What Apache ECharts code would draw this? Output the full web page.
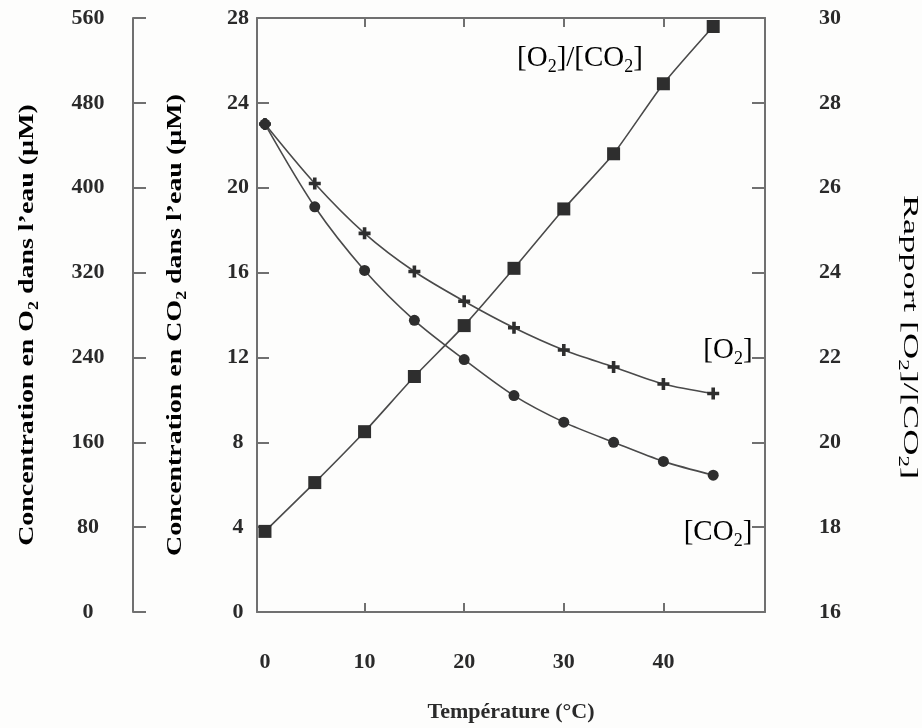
<!DOCTYPE html>
<html>
<head>
<meta charset="utf-8">
<script src="https://cdn.jsdelivr.net/npm/echarts@6/dist/echarts.min.js"></script>
<style>
html,body{margin:0;padding:0;background:#fdfdfc;}
#c{width:922px;height:728px;}
</style>
</head>
<body>
<div id="c"></div>
<script>
// Data
var temperatures = [0, 5, 10, 15, 20, 25, 30, 35, 40, 45];
var o2Values = [460, 404, 357, 321, 293, 268, 247, 231, 215, 206];
var co2Values = [23.0, 19.1, 16.1, 13.75, 11.9, 10.2, 8.95, 8.0, 7.1, 6.45];
var ratioValues = [17.9, 19.05, 20.25, 21.55, 22.75, 24.1, 25.5, 26.8, 28.45, 29.8];
var xLabelValues = [0, 10, 20, 30, 40];
var xTickValues = [10, 20, 30, 40];

function pairs(xs, ys) { return xs.map(function (x, i) { return [x, ys[i]]; }); }

var FONT = '"Liberation Serif", "Times New Roman", serif';
var AX = '#707070';
var LINE = '#4a4a4a';
var MARK = '#2e2e2e';
var TXT = '#2a2a2a';

var tickLabel = { fontFamily: FONT, fontWeight: 'bold', fontSize: 22, color: TXT, align: 'center' };
var richSubBold = {
  n: { fontFamily: FONT, fontWeight: 'bold', fontSize: 22, color: TXT },
  s: { fontFamily: FONT, fontWeight: 'bold', fontSize: 14, color: TXT, verticalAlign: 'bottom', padding: [0, 0, -3, 0] }
};
var richSub = {
  n: { fontFamily: FONT, fontSize: 22, color: TXT },
  s: { fontFamily: FONT, fontSize: 14, color: TXT, verticalAlign: 'bottom', padding: [0, 0, -3, 0] }
};
var richBig = {
  n: { fontFamily: FONT, fontSize: 29, color: TXT },
  s: { fontFamily: FONT, fontSize: 18, color: TXT, verticalAlign: 'bottom', padding: [0, 0, -4, 0] }
};

var plusPath = 'path://M3.5,0H6.5V3.5H10V6.5H6.5V10H3.5V6.5H0V3.5H3.5Z';

var axisLineStyle = { show: true, onZero: false, lineStyle: { color: AX, width: 2 } };

var chart = echarts.init(document.getElementById('c'), null, { renderer: 'canvas' });
chart.setOption({
  backgroundColor: '#fdfdfc',
  animation: false,
  grid: { left: 257, right: 157, top: 18, bottom: 111, containLabel: false },
  xAxis: [
    {
      type: 'value', position: 'bottom', min: -0.8, max: 50.2,
      axisLine: axisLineStyle,
      axisTick: { show: true, inside: true, length: 9, customValues: xTickValues, lineStyle: { color: AX, width: 2 } },
      axisLabel: { show: true, margin: 39, customValues: xLabelValues, fontFamily: FONT, fontWeight: 'bold', fontSize: 22, color: TXT },
      splitLine: { show: false },
      name: 'Température (°C)', nameLocation: 'middle', nameGap: 89,
      nameTextStyle: { fontFamily: FONT, fontWeight: 'bold', fontSize: 22, color: TXT }
    },
    {
      type: 'value', position: 'top', min: -0.8, max: 50.2,
      axisLine: axisLineStyle,
      axisTick: { show: true, inside: true, length: 9, customValues: xTickValues, lineStyle: { color: AX, width: 2 } },
      axisLabel: { show: false },
      splitLine: { show: false }
    }
  ],
  yAxis: [
    {
      type: 'value', position: 'left', min: 0, max: 28, interval: 4,
      axisLine: axisLineStyle,
      axisTick: { show: true, inside: true, length: 12, lineStyle: { color: AX, width: 2 } },
      axisLabel: Object.assign({ margin: 19 }, tickLabel),
      splitLine: { show: false }
    },
    {
      type: 'value', position: 'left', offset: 124, min: 0, max: 560, interval: 80,
      axisLine: axisLineStyle,
      axisTick: { show: true, inside: true, length: 13, lineStyle: { color: AX, width: 2 } },
      axisLabel: Object.assign({ margin: 45 }, tickLabel),
      splitLine: { show: false }
    },
    {
      type: 'value', position: 'right', min: 16, max: 30, interval: 2,
      axisLine: axisLineStyle,
      axisTick: { show: true, inside: true, length: 13, lineStyle: { color: AX, width: 2 } },
      axisLabel: Object.assign({ margin: 65 }, tickLabel),
      splitLine: { show: false }
    }
  ],
  series: [
    {
      name: '[O2]', type: 'line', xAxisIndex: 0, yAxisIndex: 1, smooth: 0.3,
      data: pairs(temperatures, o2Values),
      symbol: plusPath, symbolSize: 12,
      lineStyle: { color: LINE, width: 1.6 },
      itemStyle: { color: MARK, borderWidth: 0 }
    },
    {
      name: '[CO2]', type: 'line', xAxisIndex: 0, yAxisIndex: 0, smooth: 0.3,
      data: pairs(temperatures, co2Values),
      symbol: 'circle', symbolSize: 11,
      lineStyle: { color: LINE, width: 1.6 },
      itemStyle: { color: MARK, borderWidth: 0 }
    },
    {
      name: '[O2]/[CO2]', type: 'line', xAxisIndex: 0, yAxisIndex: 2, smooth: 0.2,
      data: pairs(temperatures, ratioValues),
      symbol: 'rect', symbolSize: 13,
      lineStyle: { color: LINE, width: 1.6 },
      itemStyle: { color: MARK, borderWidth: 0 }
    }
  ],
  graphic: [
    {
      type: 'text', x: 27, y: 325, rotation: Math.PI / 2, scaleX: 1.27,
      style: { text: '{n|Concentration en O}{s|2}{n| dans l’eau (µM)}', rich: richSubBold, align: 'center', verticalAlign: 'middle', textAlign: 'center', textVerticalAlign: 'middle' }
    },
    {
      type: 'text', x: 175, y: 325, rotation: Math.PI / 2, scaleX: 1.27,
      style: { text: '{n|Concentration en CO}{s|2}{n| dans l’eau (µM)}', rich: richSubBold, align: 'center', verticalAlign: 'middle', textAlign: 'center', textVerticalAlign: 'middle' }
    },
    {
      type: 'text', x: 910, y: 337, rotation: -Math.PI / 2, scaleX: 1.65,
      style: { text: '{n|Rapport [O}{s|2}{n|]/[CO}{s|2}{n|]}', rich: richSub, align: 'center', verticalAlign: 'middle', textAlign: 'center', textVerticalAlign: 'middle' }
    },
    {
      type: 'text', x: 580, y: 58,
      style: { text: '{n|[O}{s|2}{n|]/[CO}{s|2}{n|]}', rich: richBig, align: 'center', verticalAlign: 'middle', textAlign: 'center', textVerticalAlign: 'middle' }
    },
    {
      type: 'text', x: 728, y: 350,
      style: { text: '{n|[O}{s|2}{n|]}', rich: richBig, align: 'center', verticalAlign: 'middle', textAlign: 'center', textVerticalAlign: 'middle' }
    },
    {
      type: 'text', x: 718, y: 532,
      style: { text: '{n|[CO}{s|2}{n|]}', rich: richBig, align: 'center', verticalAlign: 'middle', textAlign: 'center', textVerticalAlign: 'middle' }
    }
  ]
});
</script>
</body>
</html>
